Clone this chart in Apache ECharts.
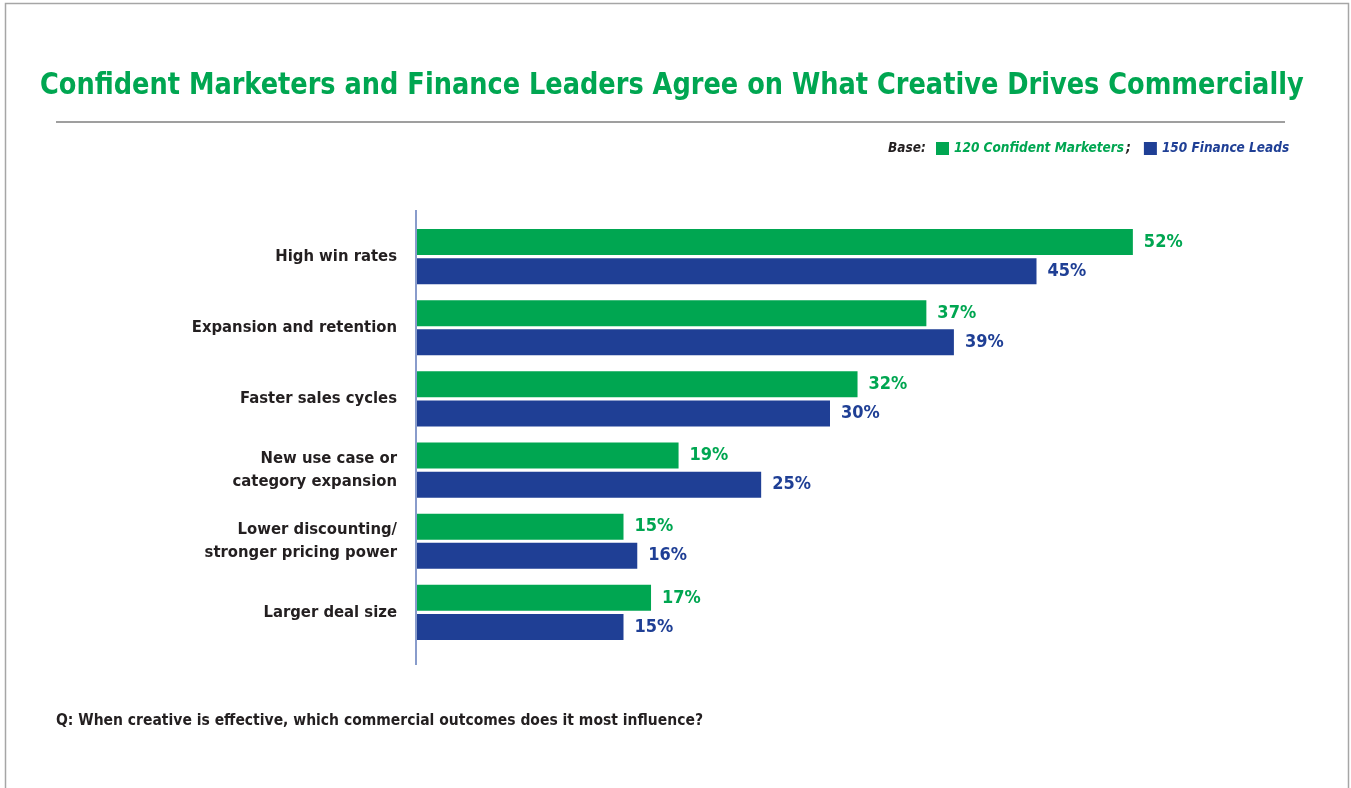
<!DOCTYPE html>
<html>
<head>
<meta charset="utf-8">
<script src="https://cdn.jsdelivr.net/npm/echarts@6/dist/echarts.min.js"></script>
<style>
  html, body { margin: 0; padding: 0; background: #ffffff; }
  #chart { width: 1351px; height: 788px; }
</style>
</head>
<body>
<div id="chart"></div>
<script>
// Commercial outcomes most influenced by effective creative
const categories = [
  'High win rates',
  'Expansion and retention',
  'Faster sales cycles',
  'New use case or\ncategory expansion',
  'Lower discounting/\nstronger pricing power',
  'Larger deal size'
];
const marketersName = '120 Confident Marketers';
const financeName = '150 Finance Leads';
const marketersValues = [52, 37, 32, 19, 15, 17];
const financeValues = [45, 39, 30, 25, 16, 15];

const titleText = 'Confident Marketers and Finance Leaders Agree on What Creative Drives Commercially';
const questionText = 'Q: When creative is effective, which commercial outcomes does it most influence?';

const GREEN = '#00a651';
const BLUE = '#1f3f95';
const DARK = '#231f20';
const FONT = "'Liberation Sans Narrow', 'DejaVu Sans Condensed', 'Roboto Condensed', sans-serif";
const LEGEND_SIZE = 13.5;

const chart = echarts.init(document.getElementById('chart'));

chart.setOption({
  backgroundColor: '#ffffff',
  animation: false,
  legend: {
    left: 936,
    top: 141.5,
    padding: 0,
    icon: 'rect',
    itemWidth: 13,
    itemHeight: 13,
    itemGap: 13,
    data: [marketersName, financeName],
    formatter: function (name) {
      return name === marketersName ? '{g|' + name + '}{k|;}' : '{b|' + name + '}';
    },
    textStyle: {
      fontFamily: FONT,
      fontSize: LEGEND_SIZE,
      fontStyle: 'italic',
      fontWeight: 'bold',
      rich: {
        g: { color: GREEN, fontFamily: FONT, fontSize: LEGEND_SIZE, fontStyle: 'italic', fontWeight: 'bold' },
        k: { color: DARK, fontFamily: FONT, fontSize: LEGEND_SIZE, fontStyle: 'italic', fontWeight: 'bold', padding: [0, 0, 0, 2] },
        b: { color: BLUE, fontFamily: FONT, fontSize: LEGEND_SIZE, fontStyle: 'italic', fontWeight: 'bold' }
      }
    }
  },
  grid: { left: 417, right: 108, top: 221, bottom: 140 },
  xAxis: {
    type: 'value',
    min: 0,
    max: 60,
    show: false
  },
  yAxis: {
    type: 'category',
    inverse: true,
    data: categories,
    axisLine: { show: false },
    axisTick: { show: false },
    axisLabel: {
      margin: 20,
      color: DARK,
      fontFamily: FONT,
      fontWeight: 'bold',
      fontSize: 16.5,
      lineHeight: 23,
      align: 'right'
    }
  },
  series: [
    {
      name: marketersName,
      type: 'bar',
      data: marketersValues,
      barWidth: 26,
      barGap: '12%',
      itemStyle: { color: GREEN },
      label: {
        show: true,
        position: 'right',
        distance: 11,
        formatter: '{c}%',
        color: GREEN,
        fontFamily: FONT,
        fontWeight: 'bold',
        fontSize: 18
      }
    },
    {
      name: financeName,
      type: 'bar',
      data: financeValues,
      barWidth: 26,
      itemStyle: { color: BLUE },
      label: {
        show: true,
        position: 'right',
        distance: 11,
        formatter: '{c}%',
        color: BLUE,
        fontFamily: FONT,
        fontWeight: 'bold',
        fontSize: 18
      }
    }
  ],
  graphic: [
    // page frame
    {
      type: 'rect',
      shape: { x: 5.5, y: 3.5, width: 1343, height: 820 },
      style: { fill: 'none', stroke: '#a6a6a6', lineWidth: 1.5 },
      silent: true
    },
    // headline, set slightly condensed
    {
      type: 'text',
      x: 40,
      y: 86,
      scaleX: 0.95,
      style: {
        x: 0,
        y: 0,
        text: titleText,
        fill: GREEN,
        font: 'bold 30px ' + FONT,
        verticalAlign: 'middle'
      },
      silent: true
    },
    // rule under the headline
    {
      type: 'line',
      shape: { x1: 56, y1: 122, x2: 1285, y2: 122 },
      style: { stroke: '#7f7f7f', lineWidth: 1.5 },
      silent: true
    },
    // category axis line
    {
      type: 'line',
      shape: { x1: 416, y1: 210, x2: 416, y2: 665 },
      style: { stroke: '#3a5aa8', lineWidth: 1.2 },
      silent: true
    },
    // legend prefix
    {
      type: 'text',
      x: 888,
      y: 148,
      style: {
        x: 0,
        y: 0,
        text: 'Base:',
        fill: DARK,
        font: 'italic bold ' + LEGEND_SIZE + 'px ' + FONT,
        verticalAlign: 'middle'
      },
      silent: true
    },
    // survey question
    {
      type: 'text',
      x: 56,
      y: 721,
      style: {
        x: 0,
        y: 0,
        text: questionText,
        fill: DARK,
        font: 'bold 15.5px ' + FONT,
        verticalAlign: 'middle'
      },
      silent: true
    }
  ]
});
</script>
</body>
</html>
